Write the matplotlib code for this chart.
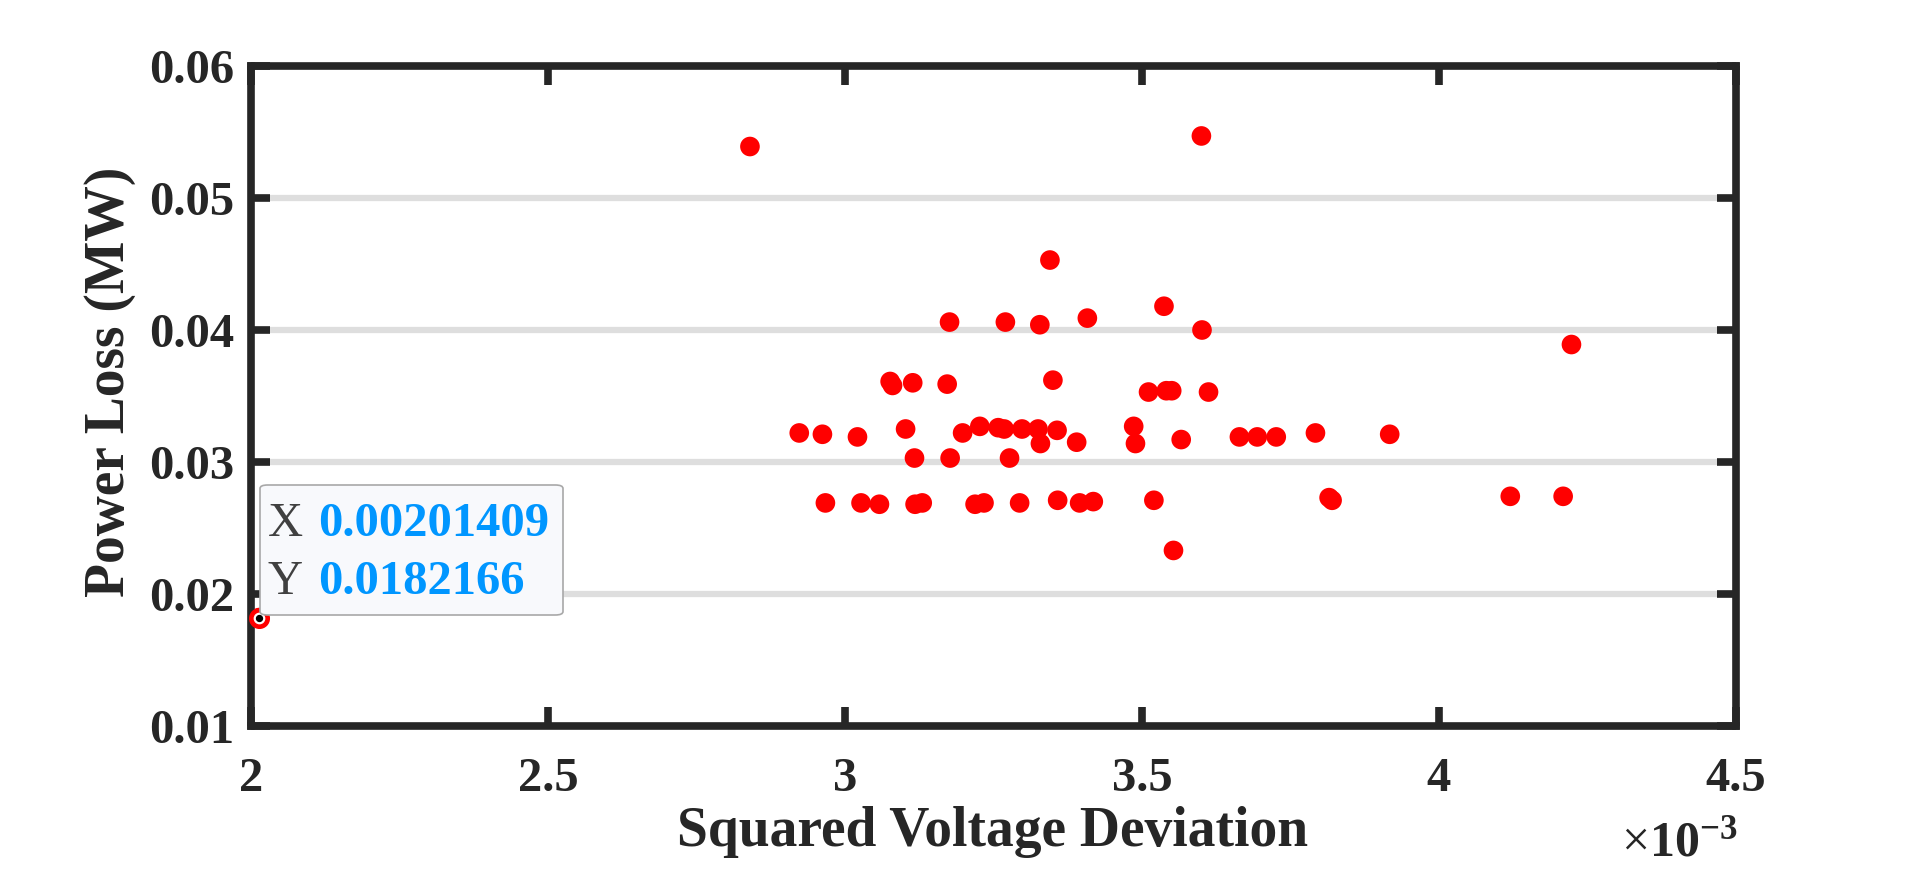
import numpy as np
import matplotlib
matplotlib.use('Agg')
import matplotlib.pyplot as plt
from matplotlib.patches import FancyBboxPatch

# Scatter data: squared voltage deviation (x1e-3) vs power loss (MW)
volt_dev_e3 = [2.840, 3.600, 3.345, 3.537, 3.176, 3.270, 3.328, 3.408, 3.601, 4.223,
               3.076, 3.080, 3.114, 3.172, 3.350, 3.511, 3.541, 3.550, 3.612,
               2.923, 2.962, 3.021, 3.102, 3.117, 3.177, 3.198, 3.227, 3.258, 3.268,
               3.277, 3.298, 3.325, 3.329, 3.357, 3.390, 3.486, 3.489, 3.566, 3.664,
               3.694, 3.726, 3.792, 3.917,
               2.967, 3.027, 3.058, 3.118, 3.130, 3.219, 3.234, 3.294, 3.358, 3.395,
               3.418, 3.520, 3.815, 3.820, 4.120, 4.209, 3.553,
               2.01409]
power_loss = [0.0539, 0.0547, 0.0453, 0.0418, 0.0406, 0.0406, 0.0404, 0.0409, 0.0400, 0.0389,
              0.0361, 0.0358, 0.0360, 0.0359, 0.0362, 0.0353, 0.0354, 0.0354, 0.0353,
              0.0322, 0.0321, 0.0319, 0.0325, 0.0303, 0.0303, 0.0322, 0.0327, 0.0326, 0.0325,
              0.0303, 0.0325, 0.0325, 0.0314, 0.0324, 0.0315, 0.0327, 0.0314, 0.0317, 0.0319,
              0.0319, 0.0319, 0.0322, 0.0321,
              0.0269, 0.0269, 0.0268, 0.0268, 0.0269, 0.0268, 0.0269, 0.0269, 0.0271, 0.0269,
              0.0270, 0.0271, 0.0273, 0.0271, 0.0274, 0.0274, 0.0233,
              0.0182166]

# data tip
tip_x = 0.00201409
tip_y = 0.0182166

x_ticks_e3 = [2, 2.5, 3, 3.5, 4, 4.5]
y_ticks = [0.01, 0.02, 0.03, 0.04, 0.05, 0.06]

plt.rcParams['font.family'] = ['Liberation Serif', 'DejaVu Serif']
plt.rcParams['mathtext.fontset'] = 'custom'
plt.rcParams['mathtext.rm'] = 'Liberation Serif'
plt.rcParams['mathtext.bf'] = 'Liberation Serif:bold'

dark = '#262626'
fig = plt.figure(figsize=(19.2, 8.69), dpi=100)
ax = fig.add_axes([251 / 1920, 1 - 726 / 869, (1736 - 251) / 1920, (726 - 66) / 869])

x = np.array(volt_dev_e3) * 1e-3
ax.scatter(x, power_loss, s=200, color='red', edgecolors='none', zorder=3, clip_on=False)

# grid lines only on y
for yt in y_ticks[1:-1]:
    ax.axhline(yt, color='#dedede', lw=4.5, zorder=1)

ax.set_xlim(2e-3, 4.5e-3)
ax.set_ylim(0.01, 0.06)
ax.set_xticks(np.array(x_ticks_e3) * 1e-3)
ax.set_xticklabels([f'{v:g}' for v in x_ticks_e3])
ax.set_yticks(y_ticks)
ax.set_yticklabels([f'{v:.2f}' for v in y_ticks])

for sp in ax.spines.values():
    sp.set_linewidth(5.5)
    sp.set_color(dark)
    sp.set_zorder(4)
ax.tick_params(direction='in', length=14, width=5.5, color=dark, labelcolor=dark,
               top=True, right=True, labelsize=35, pad=12)
ax.tick_params(axis='x', pad=22)
for lab in ax.get_xticklabels() + ax.get_yticklabels():
    lab.set_fontweight('bold')

ax.set_xlabel('Squared Voltage Deviation', fontsize=40, fontweight='bold', color=dark)
ax.xaxis.set_label_coords(993 / 1920, 1 - 806 / 869, transform=fig.transFigure)
ax.set_ylabel('Power Loss (MW)', fontsize=40, fontweight='bold', color=dark)
ax.yaxis.set_label_coords(136 / 1920, 1 - 382 / 869, transform=fig.transFigure)

# exponent label
fig.text(1738 / 1920, 1 - 843 / 869, r'$\times\mathbf{10^{-3}}$', fontsize=36, color=dark,
         ha='right', va='center')

# data tip marker
ax.scatter([tip_x], [tip_y], s=200, color='red', zorder=5, clip_on=False)
ax.scatter([tip_x], [tip_y], s=55, color='white', zorder=6, clip_on=False)
ax.scatter([tip_x], [tip_y], s=18, color='black', zorder=7, clip_on=False)

# data tip box
box = FancyBboxPatch((260 / 1920, 1 - 615 / 869), (563 - 260) / 1920, (615 - 485) / 869,
                     boxstyle='round,pad=0,rounding_size=0.004', transform=fig.transFigure,
                     facecolor='#f8f9fc', edgecolor='#a8a8a8', lw=1.2, zorder=10)
fig.patches.append(box)
fig.text(268 / 1920, 1 - 524 / 869, 'X', fontsize=35, color='#404040', va='center', zorder=11)
fig.text(318 / 1920, 1 - 524 / 869, f'{tip_x:.8f}', fontsize=35, color='#0096ff',
         fontweight='bold', va='center', zorder=11)
fig.text(268 / 1920, 1 - 582 / 869, 'Y', fontsize=35, color='#404040', va='center', zorder=11)
fig.text(318 / 1920, 1 - 582 / 869, f'{tip_y:.7f}', fontsize=35, color='#0096ff',
         fontweight='bold', va='center', zorder=11)

fig.savefig('out.png', dpi=100)
